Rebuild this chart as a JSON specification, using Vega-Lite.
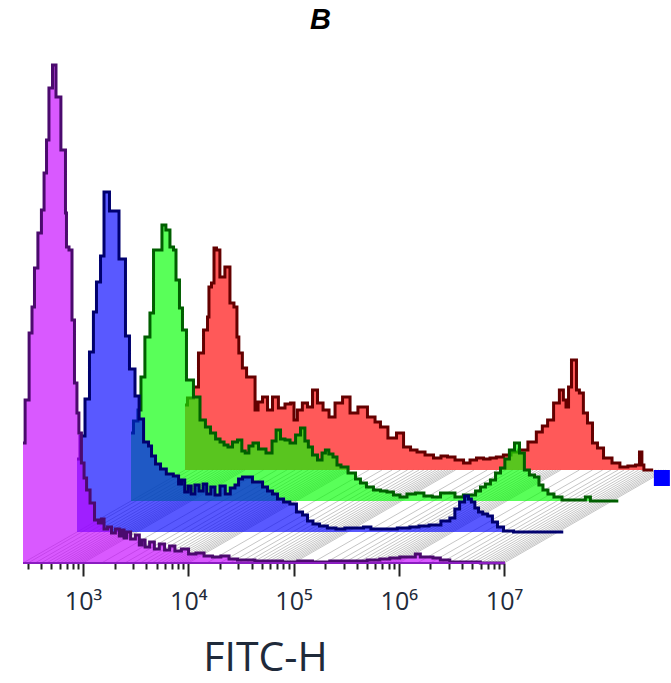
{"$schema":"https://vega.github.io/schema/vega-lite/v6.json","width":671,"height":523,"autosize":{"type":"none"},"padding":{"left":0,"top":40,"right":0,"bottom":120},"background":"white","title":{"text":"B","font":"Liberation Sans","fontStyle":"italic","fontWeight":"bold","fontSize":29,"color":"#000","anchor":"middle","dx":-15,"offset":5},"config":{"view":{"stroke":null}},
"datasets":{"hist":[
{"s":"R","l":2.43,"c":65},{"s":"R","l":2.477,"c":72},{"s":"R","l":2.544,"c":83},{"s":"R","l":2.572,"c":117},{"s":"R","l":2.64,"c":140},{"s":"R","l":2.648,"c":153},{"s":"R","l":2.667,"c":183},{"s":"R","l":2.696,"c":187},{"s":"R","l":2.715,"c":222},{"s":"R","l":2.743,"c":220},{"s":"R","l":2.78,"c":193},{"s":"R","l":2.838,"c":203},{"s":"R","l":2.876,"c":167},{"s":"R","l":2.914,"c":163},{"s":"R","l":2.933,"c":133},{"s":"R","l":2.95,"c":117},{"s":"R","l":3.0,"c":102},{"s":"R","l":3.03,"c":93},{"s":"R","l":3.086,"c":93},{"s":"R","l":3.105,"c":60},{"s":"R","l":3.143,"c":68},{"s":"R","l":3.19,"c":73},{"s":"R","l":3.238,"c":60},{"s":"R","l":3.285,"c":73},{"s":"R","l":3.35,"c":62},{"s":"R","l":3.41,"c":66},{"s":"R","l":3.456,"c":67},{"s":"R","l":3.475,"c":50},{"s":"R","l":3.52,"c":60},{"s":"R","l":3.57,"c":67},{"s":"R","l":3.618,"c":63},{"s":"R","l":3.665,"c":80},{"s":"R","l":3.713,"c":67},{"s":"R","l":3.77,"c":60},{"s":"R","l":3.827,"c":53},{"s":"R","l":3.884,"c":67},{"s":"R","l":3.97,"c":73},{"s":"R","l":4.026,"c":57},{"s":"R","l":4.12,"c":63},{"s":"R","l":4.207,"c":53},{"s":"R","l":4.264,"c":48},{"s":"R","l":4.31,"c":43},{"s":"R","l":4.406,"c":32},{"s":"R","l":4.473,"c":37},{"s":"R","l":4.54,"c":23},{"s":"R","l":4.606,"c":20},{"s":"R","l":4.663,"c":18},{"s":"R","l":4.758,"c":15},{"s":"R","l":4.824,"c":12},{"s":"R","l":4.9,"c":14},{"s":"R","l":4.948,"c":13},{"s":"R","l":5.043,"c":10},{"s":"R","l":5.11,"c":7},{"s":"R","l":5.166,"c":10},{"s":"R","l":5.233,"c":12},{"s":"R","l":5.3,"c":11},{"s":"R","l":5.356,"c":12},{"s":"R","l":5.42,"c":13},{"s":"R","l":5.49,"c":15},{"s":"R","l":5.565,"c":18},{"s":"R","l":5.64,"c":20},{"s":"R","l":5.736,"c":28},{"s":"R","l":5.8,"c":38},{"s":"R","l":5.85,"c":44},{"s":"R","l":5.9,"c":50},{"s":"R","l":5.964,"c":67},{"s":"R","l":6.01,"c":80},{"s":"R","l":6.04,"c":70},{"s":"R","l":6.06,"c":63},{"s":"R","l":6.088,"c":83},{"s":"R","l":6.116,"c":110},{"s":"R","l":6.145,"c":110},{"s":"R","l":6.154,"c":80},{"s":"R","l":6.2,"c":77},{"s":"R","l":6.23,"c":57},{"s":"R","l":6.278,"c":47},{"s":"R","l":6.325,"c":27},{"s":"R","l":6.373,"c":22},{"s":"R","l":6.44,"c":12},{"s":"R","l":6.534,"c":7},{"s":"R","l":6.59,"c":3},{"s":"R","l":6.686,"c":4},{"s":"R","l":6.734,"c":5},{"s":"R","l":6.762,"c":18},{"s":"R","l":6.78,"c":5},{"s":"R","l":6.8,"c":0},{"s":"R","l":6.878,"c":0},
{"s":"G","l":2.43,"c":68},{"s":"G","l":2.477,"c":80},{"s":"G","l":2.515,"c":91},{"s":"G","l":2.534,"c":124},{"s":"G","l":2.59,"c":164},{"s":"G","l":2.63,"c":188},{"s":"G","l":2.658,"c":251},{"s":"G","l":2.705,"c":251},{"s":"G","l":2.743,"c":276},{"s":"G","l":2.78,"c":271},{"s":"G","l":2.82,"c":254},{"s":"G","l":2.848,"c":251},{"s":"G","l":2.867,"c":221},{"s":"G","l":2.914,"c":193},{"s":"G","l":2.924,"c":171},{"s":"G","l":2.99,"c":121},{"s":"G","l":3.057,"c":104},{"s":"G","l":3.114,"c":81},{"s":"G","l":3.16,"c":74},{"s":"G","l":3.21,"c":68},{"s":"G","l":3.257,"c":62},{"s":"G","l":3.295,"c":59},{"s":"G","l":3.333,"c":56},{"s":"G","l":3.37,"c":54},{"s":"G","l":3.418,"c":59},{"s":"G","l":3.466,"c":61},{"s":"G","l":3.5,"c":50},{"s":"G","l":3.53,"c":48},{"s":"G","l":3.57,"c":55},{"s":"G","l":3.608,"c":58},{"s":"G","l":3.675,"c":52},{"s":"G","l":3.75,"c":48},{"s":"G","l":3.79,"c":60},{"s":"G","l":3.827,"c":71},{"s":"G","l":3.874,"c":62},{"s":"G","l":3.912,"c":61},{"s":"G","l":3.97,"c":58},{"s":"G","l":4.017,"c":66},{"s":"G","l":4.064,"c":73},{"s":"G","l":4.1,"c":60},{"s":"G","l":4.13,"c":54},{"s":"G","l":4.178,"c":46},{"s":"G","l":4.226,"c":41},{"s":"G","l":4.264,"c":48},{"s":"G","l":4.29,"c":51},{"s":"G","l":4.33,"c":47},{"s":"G","l":4.368,"c":44},{"s":"G","l":4.406,"c":36},{"s":"G","l":4.444,"c":34},{"s":"G","l":4.54,"c":28},{"s":"G","l":4.586,"c":22},{"s":"G","l":4.634,"c":18},{"s":"G","l":4.7,"c":14},{"s":"G","l":4.767,"c":11},{"s":"G","l":4.833,"c":10},{"s":"G","l":4.89,"c":9},{"s":"G","l":4.957,"c":6},{"s":"G","l":5.014,"c":4},{"s":"G","l":5.09,"c":7},{"s":"G","l":5.176,"c":8},{"s":"G","l":5.25,"c":5},{"s":"G","l":5.337,"c":4},{"s":"G","l":5.404,"c":8},{"s":"G","l":5.46,"c":8},{"s":"G","l":5.556,"c":4},{"s":"G","l":5.62,"c":6},{"s":"G","l":5.68,"c":6},{"s":"G","l":5.727,"c":10},{"s":"G","l":5.774,"c":14},{"s":"G","l":5.82,"c":17},{"s":"G","l":5.87,"c":21},{"s":"G","l":5.917,"c":28},{"s":"G","l":5.964,"c":33},{"s":"G","l":6.0,"c":42},{"s":"G","l":6.05,"c":51},{"s":"G","l":6.097,"c":58},{"s":"G","l":6.145,"c":48},{"s":"G","l":6.19,"c":31},{"s":"G","l":6.24,"c":26},{"s":"G","l":6.287,"c":24},{"s":"G","l":6.325,"c":16},{"s":"G","l":6.363,"c":11},{"s":"G","l":6.42,"c":7},{"s":"G","l":6.477,"c":4},{"s":"G","l":6.573,"c":1},{"s":"G","l":6.677,"c":1},{"s":"G","l":6.724,"c":1},{"s":"G","l":6.77,"c":4},{"s":"G","l":6.82,"c":0},{"s":"G","l":7.06,"c":0},
{"s":"B","l":2.43,"c":73},{"s":"B","l":2.487,"c":96},{"s":"B","l":2.525,"c":133},{"s":"B","l":2.572,"c":180},{"s":"B","l":2.6,"c":220},{"s":"B","l":2.63,"c":250},{"s":"B","l":2.677,"c":276},{"s":"B","l":2.696,"c":340},{"s":"B","l":2.724,"c":340},{"s":"B","l":2.753,"c":321},{"s":"B","l":2.82,"c":321},{"s":"B","l":2.838,"c":273},{"s":"B","l":2.876,"c":273},{"s":"B","l":2.905,"c":196},{"s":"B","l":2.952,"c":163},{"s":"B","l":3.01,"c":136},{"s":"B","l":3.03,"c":113},{"s":"B","l":3.095,"c":90},{"s":"B","l":3.124,"c":86},{"s":"B","l":3.152,"c":76},{"s":"B","l":3.2,"c":68},{"s":"B","l":3.247,"c":63},{"s":"B","l":3.31,"c":58},{"s":"B","l":3.38,"c":56},{"s":"B","l":3.41,"c":48},{"s":"B","l":3.437,"c":52},{"s":"B","l":3.47,"c":40},{"s":"B","l":3.5,"c":46},{"s":"B","l":3.53,"c":38},{"s":"B","l":3.57,"c":47},{"s":"B","l":3.61,"c":41},{"s":"B","l":3.646,"c":48},{"s":"B","l":3.68,"c":38},{"s":"B","l":3.722,"c":45},{"s":"B","l":3.76,"c":37},{"s":"B","l":3.817,"c":46},{"s":"B","l":3.86,"c":38},{"s":"B","l":3.912,"c":44},{"s":"B","l":3.95,"c":47},{"s":"B","l":3.98,"c":53},{"s":"B","l":4.026,"c":55},{"s":"B","l":4.074,"c":55},{"s":"B","l":4.12,"c":50},{"s":"B","l":4.17,"c":50},{"s":"B","l":4.216,"c":45},{"s":"B","l":4.264,"c":41},{"s":"B","l":4.31,"c":38},{"s":"B","l":4.36,"c":33},{"s":"B","l":4.425,"c":30},{"s":"B","l":4.48,"c":28},{"s":"B","l":4.55,"c":20},{"s":"B","l":4.596,"c":17},{"s":"B","l":4.644,"c":11},{"s":"B","l":4.7,"c":8},{"s":"B","l":4.767,"c":6},{"s":"B","l":4.85,"c":4},{"s":"B","l":4.93,"c":3},{"s":"B","l":5.02,"c":4},{"s":"B","l":5.12,"c":4},{"s":"B","l":5.185,"c":5},{"s":"B","l":5.26,"c":3},{"s":"B","l":5.4,"c":3},{"s":"B","l":5.546,"c":4},{"s":"B","l":5.64,"c":5},{"s":"B","l":5.72,"c":6},{"s":"B","l":5.83,"c":7},{"s":"B","l":5.945,"c":11},{"s":"B","l":6.0,"c":14},{"s":"B","l":6.04,"c":23},{"s":"B","l":6.09,"c":30},{"s":"B","l":6.135,"c":36},{"s":"B","l":6.164,"c":33},{"s":"B","l":6.19,"c":30},{"s":"B","l":6.23,"c":24},{"s":"B","l":6.26,"c":20},{"s":"B","l":6.31,"c":18},{"s":"B","l":6.354,"c":16},{"s":"B","l":6.4,"c":10},{"s":"B","l":6.45,"c":5},{"s":"B","l":6.515,"c":1},{"s":"B","l":6.64,"c":0},{"s":"B","l":7.05,"c":0},
{"s":"P","l":2.43,"c":120},{"s":"P","l":2.47,"c":163},{"s":"P","l":2.506,"c":230},{"s":"P","l":2.525,"c":256},{"s":"P","l":2.553,"c":295},{"s":"P","l":2.59,"c":330},{"s":"P","l":2.62,"c":353},{"s":"P","l":2.64,"c":390},{"s":"P","l":2.667,"c":423},{"s":"P","l":2.686,"c":475},{"s":"P","l":2.705,"c":475},{"s":"P","l":2.715,"c":498},{"s":"P","l":2.734,"c":498},{"s":"P","l":2.753,"c":466},{"s":"P","l":2.78,"c":466},{"s":"P","l":2.8,"c":413},{"s":"P","l":2.829,"c":413},{"s":"P","l":2.838,"c":350},{"s":"P","l":2.848,"c":316},{"s":"P","l":2.886,"c":313},{"s":"P","l":2.905,"c":243},{"s":"P","l":2.933,"c":180},{"s":"P","l":2.952,"c":150},{"s":"P","l":2.97,"c":130},{"s":"P","l":3.0,"c":100},{"s":"P","l":3.02,"c":85},{"s":"P","l":3.048,"c":73},{"s":"P","l":3.086,"c":60},{"s":"P","l":3.133,"c":43},{"s":"P","l":3.16,"c":40},{"s":"P","l":3.19,"c":44},{"s":"P","l":3.21,"c":34},{"s":"P","l":3.257,"c":36},{"s":"P","l":3.285,"c":30},{"s":"P","l":3.33,"c":34},{"s":"P","l":3.36,"c":27},{"s":"P","l":3.38,"c":33},{"s":"P","l":3.4,"c":25},{"s":"P","l":3.43,"c":31},{"s":"P","l":3.475,"c":24},{"s":"P","l":3.52,"c":28},{"s":"P","l":3.55,"c":18},{"s":"P","l":3.57,"c":23},{"s":"P","l":3.61,"c":16},{"s":"P","l":3.656,"c":21},{"s":"P","l":3.7,"c":14},{"s":"P","l":3.75,"c":19},{"s":"P","l":3.8,"c":13},{"s":"P","l":3.846,"c":17},{"s":"P","l":3.9,"c":12},{"s":"P","l":3.97,"c":14},{"s":"P","l":4.036,"c":9},{"s":"P","l":4.11,"c":10},{"s":"P","l":4.19,"c":7},{"s":"P","l":4.27,"c":6},{"s":"P","l":4.35,"c":7},{"s":"P","l":4.425,"c":4},{"s":"P","l":4.51,"c":3},{"s":"P","l":4.587,"c":3},{"s":"P","l":4.68,"c":2},{"s":"P","l":4.82,"c":2},{"s":"P","l":4.97,"c":1},{"s":"P","l":5.11,"c":2},{"s":"P","l":5.25,"c":1},{"s":"P","l":5.44,"c":2},{"s":"P","l":5.63,"c":2},{"s":"P","l":5.77,"c":3},{"s":"P","l":5.87,"c":4},{"s":"P","l":5.96,"c":5},{"s":"P","l":6.06,"c":6},{"s":"P","l":6.135,"c":6},{"s":"P","l":6.18,"c":9},{"s":"P","l":6.23,"c":6},{"s":"P","l":6.3,"c":6},{"s":"P","l":6.35,"c":5},{"s":"P","l":6.44,"c":3},{"s":"P","l":6.53,"c":1},{"s":"P","l":6.68,"c":1},{"s":"P","l":6.87,"c":0},{"s":"P","l":7.01,"c":0}
],
"floor":[{"l":2.43},{"l":2.477},{"l":2.544},{"l":2.602},{"l":2.653},{"l":2.699},{"l":2.74},{"l":2.778},{"l":2.813},{"l":2.845},{"l":2.875},{"l":2.903},{"l":2.929},{"l":2.954},{"l":2.978},
{"l":3},{"l":3.176},{"l":3.301},{"l":3.398},{"l":3.477},{"l":3.544},{"l":3.602},{"l":3.653},{"l":3.699},{"l":3.74},{"l":3.778},{"l":3.813},{"l":3.845},{"l":3.875},{"l":3.903},{"l":3.929},{"l":3.954},{"l":3.978},
{"l":4},{"l":4.176},{"l":4.301},{"l":4.398},{"l":4.477},{"l":4.544},{"l":4.602},{"l":4.653},{"l":4.699},{"l":4.74},{"l":4.778},{"l":4.813},{"l":4.845},{"l":4.875},{"l":4.903},{"l":4.929},{"l":4.954},{"l":4.978},
{"l":5},{"l":5.176},{"l":5.301},{"l":5.398},{"l":5.477},{"l":5.544},{"l":5.602},{"l":5.653},{"l":5.699},{"l":5.74},{"l":5.778},{"l":5.813},{"l":5.845},{"l":5.875},{"l":5.903},{"l":5.929},{"l":5.954},{"l":5.978},
{"l":6},{"l":6.176},{"l":6.301},{"l":6.398},{"l":6.477},{"l":6.544},{"l":6.602},{"l":6.653},{"l":6.699},{"l":6.74},{"l":6.778},{"l":6.813},{"l":6.845},{"l":6.875},{"l":6.903},{"l":6.929},{"l":6.954},{"l":6.978},{"l":7}],
"marker":[{"l":8.5,"c":85}],
"base":[{"l":2.43,"l2":7.01}]},
"data":{"name":"hist"},
"encoding":{"x":{"field":"l","type":"quantitative","title":"FITC-H","scale":{"domain":[2.2114,8.5867],"nice":false,"zero":false},"axis":{"domain":false,"grid":false,"values":[2.477,2.602,2.699,2.778,2.845,2.903,2.954,3,3.301,3.477,3.602,3.699,3.778,3.845,3.903,3.954,4,4.301,4.477,4.602,4.699,4.778,4.845,4.903,4.954,5,5.301,5.477,5.602,5.699,5.778,5.845,5.903,5.954,6,6.301,6.477,6.602,6.699,6.778,6.845,6.903,6.954,7],"tickColor":"#222222","tickWidth":2,"tickSize":{"condition":{"test":"datum.value==3||datum.value==4||datum.value==5||datum.value==6||datum.value==7","value":13},"value":6},"labelExpr":"datum.value==3?'10³':datum.value==4?'10⁴':datum.value==5?'10⁵':datum.value==6?'10⁶':datum.value==7?'10⁷':''","labelFont":"Open Sans","labelFontSize":25,"labelColor":"#222a3a","labelPadding":13,"labelOverlap":false,"labelFlush":false,"labelBaseline":"top","titleFont":"Open Sans","titleFontSize":41,"titleFontWeight":"normal","titleColor":"#1f2a3a","titleX":265,"titleY":107,"titleAlign":"center","titleBaseline":"alphabetic"}},
"y":{"field":"c","type":"quantitative","scale":{"domain":[0,523],"nice":false},"axis":null}},
"layer":[
{"data":{"name":"floor"},"mark":{"type":"rule","color":"#c6c6c6","strokeWidth":1,"x2Offset":162,"y2Offset":-93},"encoding":{"x2":{"field":"l"},"y":{"value":523},"y2":{"value":523}}},
{"transform":[{"filter":"datum.s=='R'"}],"mark":{"type":"area","interpolate":"step","color":"#ff0000","opacity":0.65,"xOffset":162,"x2Offset":162,"yOffset":-93,"y2Offset":-93},"encoding":{"y2":{"datum":0}}},
{"transform":[{"filter":"datum.s=='R'"}],"mark":{"type":"line","interpolate":"step","color":"#640000","strokeWidth":3,"xOffset":162,"yOffset":-93}},
{"transform":[{"filter":"datum.s=='G'"}],"mark":{"type":"area","interpolate":"step","color":"#00ff00","opacity":0.65,"xOffset":108,"x2Offset":108,"yOffset":-62,"y2Offset":-62},"encoding":{"y2":{"datum":0}}},
{"transform":[{"filter":"datum.s=='G'"}],"mark":{"type":"line","interpolate":"step","color":"#005f00","strokeWidth":3,"xOffset":108,"yOffset":-62}},
{"transform":[{"filter":"datum.s=='B'"}],"mark":{"type":"area","interpolate":"step","color":"#0000ff","opacity":0.65,"xOffset":54,"x2Offset":54,"yOffset":-31,"y2Offset":-31},"encoding":{"y2":{"datum":0}}},
{"transform":[{"filter":"datum.s=='B'"}],"mark":{"type":"line","interpolate":"step","color":"#00006e","strokeWidth":3,"xOffset":54,"yOffset":-31}},
{"transform":[{"filter":"datum.s=='P'"}],"mark":{"type":"area","interpolate":"step","color":"#c500ff","opacity":0.65},"encoding":{"y2":{"datum":0}}},
{"transform":[{"filter":"datum.s=='P'"}],"mark":{"type":"line","interpolate":"step","color":"#4b0a6e","strokeWidth":3}},
{"data":{"name":"base"},"mark":{"type":"rule","color":"#8a1cc0","strokeWidth":2},"encoding":{"x2":{"field":"l2"},"y":{"value":523}}},
{"data":{"name":"marker"},"mark":{"type":"square","color":"#0000ff","filled":true,"opacity":1,"size":256}}
]}
